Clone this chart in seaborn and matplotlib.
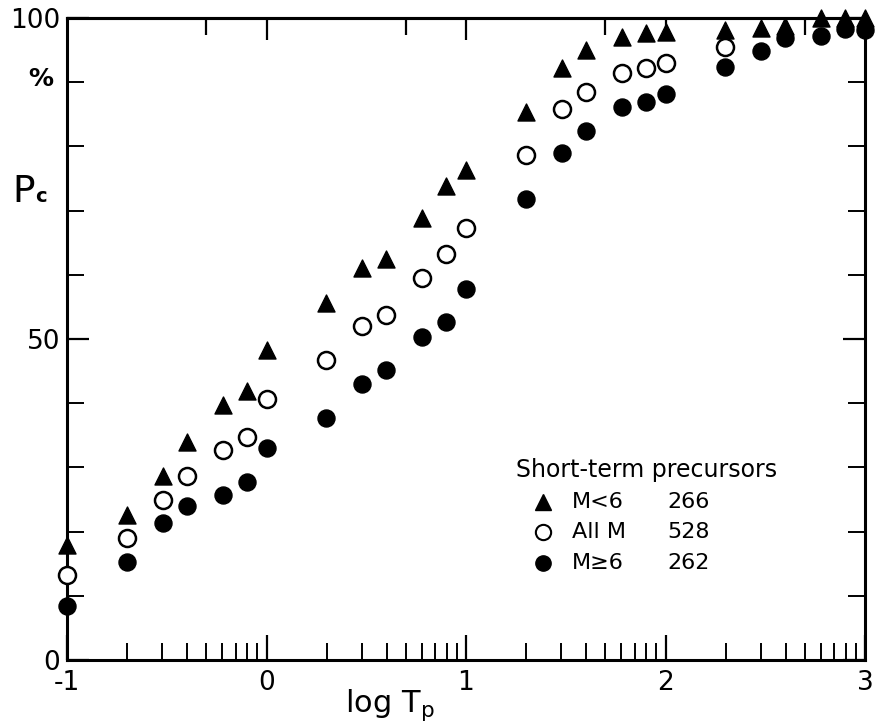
import numpy as np
import pandas as pd
import matplotlib
matplotlib.use("Agg")
import matplotlib.pyplot as plt
import seaborn as sns

# log10 of precursor time Tp
logT_lt6 = [-1.0, -0.70, -0.52, -0.40, -0.22, -0.10, 0.0, 0.30, 0.48, 0.60, 0.78, 0.90, 1.0,
            1.30, 1.48, 1.60, 1.78, 1.90, 2.0, 2.30, 2.48, 2.60, 2.78, 2.90, 3.0]
pc_lt6 = [17.9, 22.6, 28.7, 34.0, 39.7, 41.9, 48.3, 55.6, 61.1, 62.5, 68.8, 73.8, 76.3,
          85.4, 92.2, 95.0, 97.0, 97.7, 97.8, 98.1, 98.4, 98.8, 100.0, 100.0, 100.0]

logT_all = [-1.0, -0.70, -0.52, -0.40, -0.22, -0.10, 0.0, 0.30, 0.48, 0.60, 0.78, 0.90, 1.0,
            1.30, 1.48, 1.60, 1.78, 1.90, 2.0, 2.30]
pc_all = [13.2, 19.0, 24.9, 28.7, 32.7, 34.7, 40.7, 46.7, 52.0, 53.7, 59.5, 63.2, 67.3,
          78.7, 85.8, 88.5, 91.4, 92.2, 93.0, 95.5]

logT_ge6 = [-1.0, -0.70, -0.52, -0.40, -0.22, -0.10, 0.0, 0.30, 0.48, 0.60, 0.78, 0.90, 1.0,
            1.30, 1.48, 1.60, 1.78, 1.90, 2.0, 2.30, 2.48, 2.60, 2.78, 2.90, 3.0]
pc_ge6 = [8.4, 15.3, 21.3, 24.0, 25.7, 27.7, 33.0, 37.7, 43.0, 45.2, 50.3, 52.6, 57.8,
          71.8, 79.0, 82.4, 86.1, 86.9, 88.2, 92.4, 94.9, 96.9, 97.2, 98.3, 98.1]

legend_title = "Short-term precursors"
legend_labels = ["M<6", "All M", "M≥6"]
legend_counts = ["266", "528", "262"]

x_major = [-1, 0, 1, 2, 3]
x_labels = ["-1", "0", "1", "2", "3"]
y_major = [0, 50, 100]
y_labels = ["0", "50", "100"]
y_minor = [10, 20, 30, 40, 60, 70, 80, 90]

sns.set_style("white")
plt.rcParams['font.family'] = ['DejaVu Sans']
plt.rcParams.update({"text.color": "black", "xtick.color": "black", "ytick.color": "black",
                     "axes.labelcolor": "black", "axes.edgecolor": "black"})

fig = plt.figure(figsize=(8.77, 7.23), dpi=100)
ax = fig.add_axes([67/877, 63/723, (865-67)/877, (660-18)/723])

df_lt6 = pd.DataFrame({"logT": logT_lt6, "Pc": pc_lt6})
df_all = pd.DataFrame({"logT": logT_all, "Pc": pc_all})
df_ge6 = pd.DataFrame({"logT": logT_ge6, "Pc": pc_ge6})

ms = 150
sns.scatterplot(data=df_all, x="logT", y="Pc", ax=ax, marker="o", color="white",
                edgecolor="black", linewidth=1.8, s=ms, clip_on=False, zorder=3, legend=False)
sns.scatterplot(data=df_ge6, x="logT", y="Pc", ax=ax, marker="o", color="black",
                edgecolor="black", linewidth=1.0, s=ms, clip_on=False, zorder=4, legend=False)
sns.scatterplot(data=df_lt6, x="logT", y="Pc", ax=ax, marker="^", color="black",
                edgecolor="black", linewidth=1.0, s=ms, clip_on=False, zorder=5, legend=False)

ax.set_xlim(-1, 3)
ax.set_ylim(0, 100)

for sp in ax.spines.values():
    sp.set_linewidth(2.2)
    sp.set_color("black")

# x ticks
ax.set_xticks(x_major)
ax.set_xticklabels(x_labels, fontsize=19)
minor_x = []
for d in [-1, 0, 1, 2]:
    for k in range(2, 10):
        minor_x.append(d + np.log10(k))
ax.set_xticks(minor_x, minor=True)
ax.set_yticks(y_major)
ax.set_yticklabels(y_labels, fontsize=19)
ax.set_yticks(y_minor, minor=True)
ax.tick_params(axis="x", which="major", direction="in", length=18, width=1.6, pad=7,
               bottom=True, top=False)
ax.tick_params(axis="x", which="minor", direction="in", length=12, width=1.4,
               bottom=True, top=False)
ax.tick_params(axis="y", which="major", direction="in", length=16, width=1.6, pad=5,
               left=True, right=True)
ax.tick_params(axis="y", which="minor", direction="in", length=12, width=1.4,
               left=True, right=True)

# top ticks
top = ax.secondary_xaxis("top")
top.set_xticks([0, 1, 2])
top.set_xticks([np.log10(0.5), np.log10(5), np.log10(50), np.log10(500)], minor=True)
top.tick_params(axis="x", which="major", direction="in", length=16, width=1.6,
                labeltop=False, top=True)
top.tick_params(axis="x", which="minor", direction="in", length=12, width=1.6,
                labeltop=False, top=True)
top.spines["top"].set_linewidth(2.2)

# axis labels
fig.text(390/877, 1 - 712/723, r"log T$_\mathregular{p}$", fontsize=22, ha="center",
         va="baseline")
fig.text(12/877, 1 - 202/723, "P", fontsize=27, ha="left", va="baseline")
fig.text(35/877, 1 - 202/723, "c", fontsize=14, fontweight="bold", ha="left", va="baseline")
fig.text(41/877, 1 - 79/723, "%", fontsize=18, fontweight="bold", ha="center", va="center")

# legend (manual)
def ax_xy(px, py):
    return ((px - 67) / (865 - 67), (660 - py) / (660 - 18))

tx, ty = ax_xy(516, 470)
ax.text(tx, ty, legend_title, transform=ax.transAxes, fontsize=17, ha="left", va="center")
rows_y = [502, 532, 563]
mk = [dict(marker="^", mfc="black", mec="black"),
      dict(marker="o", mfc="white", mec="black", mew=1.5),
      dict(marker="o", mfc="black", mec="black")]
for ry, lab, cnt, m in zip(rows_y, legend_labels, legend_counts, mk):
    mx, my = ax_xy(543, ry)
    ax.plot([mx], [my], transform=ax.transAxes, markersize=11, ls="none", clip_on=False, **m)
    lx, _ = ax_xy(572, ry)
    ax.text(lx, my, lab, transform=ax.transAxes, fontsize=16, ha="left", va="center")
    cx, _ = ax_xy(667, ry)
    ax.text(cx, my, cnt, transform=ax.transAxes, fontsize=16, ha="left", va="center")

ax.set_xlabel("")
ax.set_ylabel("")

fig.savefig("out.png", dpi=100)
